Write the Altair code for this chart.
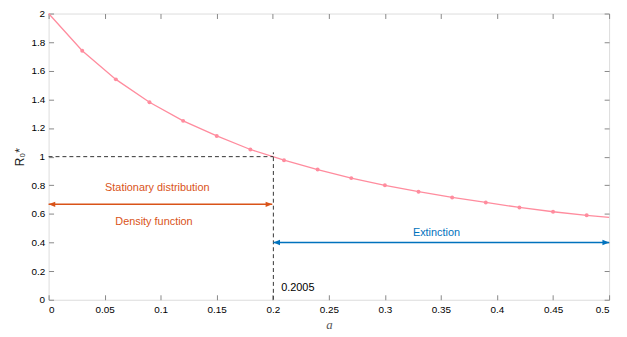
import altair as alt
import pandas as pd

# ---- data ----
a_vals = [0.0, 0.03, 0.06, 0.09, 0.12, 0.15, 0.18, 0.21, 0.24, 0.27, 0.30,
          0.33, 0.36, 0.39, 0.42, 0.45, 0.48, 0.50]
r_vals = [2.0, 1.74, 1.54, 1.38, 1.25, 1.145, 1.05, 0.975, 0.91, 0.85, 0.80,
          0.755, 0.715, 0.68, 0.645, 0.615, 0.59, 0.575]
marker_a = a_vals[1:-1]
marker_r = r_vals[1:-1]

x_ticks = [0, 0.05, 0.1, 0.15, 0.2, 0.25, 0.3, 0.35, 0.4, 0.45, 0.5]
y_ticks = [0, 0.2, 0.4, 0.6, 0.8, 1, 1.2, 1.4, 1.6, 1.8, 2]

threshold_a = 0.2005
threshold_r = 1.0
stat_y = 0.667
ext_y = 0.4
x_min, x_max = 0.0, 0.5

labels_txt = ["Stationary distribution", "Density function", "Extinction", "0.2005"]
labels_x = [0.097, 0.094, 0.346, 0.2075]
labels_y = [0.78, 0.545, 0.469, 0.08]
labels_col = ["#D95319", "#D95319", "#0072BD", "#000000"]
labels_align = ["center", "center", "center", "left"]

# ---- tables ----
curve = pd.DataFrame({"a": a_vals, "r": r_vals})
markers = pd.DataFrame({"a": marker_a, "r": marker_r})

W, H = 566, 289
FONT = "Liberation Sans"
AX = "#262626"
xs = alt.Scale(domain=[x_min, x_max], nice=False, zero=False)
ys = alt.Scale(domain=[0, 2], nice=False, zero=False)

main_x = alt.Axis(values=x_ticks, format="~g", ticks=False, labelPadding=5, grid=False,
                  title="a", titleFont="Liberation Serif", titleFontStyle="italic",
                  titleFontWeight="normal", titleFontSize=13, titleColor="#555555",
                  titleBaseline="alphabetic", titleY=29, domain=False)
main_y = alt.Axis(values=y_ticks, format="~g", ticks=False, labelPadding=4, grid=False,
                  title="R₀*", titleFontSize=12, titleFontWeight="normal",
                  titleColor=AX, titlePadding=4, domain=False)

line = alt.Chart(curve).mark_line(color="#FF8C9E", strokeWidth=1.3).encode(
    x=alt.X("a:Q", scale=xs, axis=main_x),
    y=alt.Y("r:Q", scale=ys, axis=main_y),
)

pts = alt.Chart(markers).mark_point(filled=True, color="#FF8C9E", size=16, opacity=1).encode(
    x=alt.X("a:Q", scale=xs, axis=None),
    y=alt.Y("r:Q", scale=ys, axis=None),
)


def tick_axis(orient, vals):
    return alt.Axis(orient=orient, offset=-5, values=vals, labels=False, domain=False,
                    tickSize=5, grid=False, title=None)


# inward ticks (bottom/left)
tick_bl = alt.Chart(curve).mark_point(opacity=0).encode(
    x=alt.X("a:Q", scale=xs, axis=tick_axis("bottom", x_ticks)),
    y=alt.Y("r:Q", scale=ys, axis=tick_axis("left", y_ticks)),
)
# inward ticks (top/right)
tick_tr = alt.Chart(curve).mark_point(opacity=0).encode(
    x=alt.X("a:Q", scale=xs, axis=tick_axis("top", x_ticks)),
    y=alt.Y("r:Q", scale=ys, axis=tick_axis("right", y_ticks)),
)

# dashed threshold lines
hdash = alt.Chart(pd.DataFrame({"x": [x_min], "x2": [threshold_a], "y": [threshold_r]})).mark_rule(
    color="#333333", strokeDash=[4, 3], strokeWidth=1).encode(
    x=alt.X("x:Q", scale=xs, axis=None), x2="x2:Q", y=alt.Y("y:Q", scale=ys, axis=None))
vdash = alt.Chart(pd.DataFrame({"x": [threshold_a], "y": [0.0], "y2": [1.03]})).mark_rule(
    color="#333333", strokeDash=[4, 3], strokeWidth=1).encode(
    x=alt.X("x:Q", scale=xs, axis=None), y=alt.Y("y:Q", scale=ys, axis=None), y2="y2:Q")

# arrows
arrows = pd.DataFrame({
    "x": [x_min, threshold_a], "x2": [threshold_a - 0.001, x_max],
    "y": [stat_y, ext_y], "c": ["#D95319", "#0072BD"]})
arrow_lines = alt.Chart(arrows).mark_rule(strokeWidth=1.5).encode(
    x=alt.X("x:Q", scale=xs, axis=None), x2="x2:Q",
    y=alt.Y("y:Q", scale=ys, axis=None),
    color=alt.Color("c:N", scale=None))

RIGHT = "M0,0 L-1,-0.4 L-1,0.4 Z"
LEFT = "M0,0 L1,-0.4 L1,0.4 Z"
heads_r = pd.DataFrame({"x": [threshold_a - 0.001, x_max], "y": [stat_y, ext_y],
                        "c": ["#D95319", "#0072BD"]})
heads_l = pd.DataFrame({"x": [x_min, threshold_a], "y": [stat_y, ext_y],
                        "c": ["#D95319", "#0072BD"]})


def heads(df, path):
    return alt.Chart(df).mark_point(shape=path, filled=True, opacity=1, size=180).encode(
        x=alt.X("x:Q", scale=xs, axis=None),
        y=alt.Y("y:Q", scale=ys, axis=None),
        color=alt.Color("c:N", scale=None))


texts = pd.DataFrame({"t": labels_txt, "x": labels_x, "y": labels_y,
                      "c": labels_col, "al": labels_align})
text_layers = []
for al in ["center", "left"]:
    sub = texts[texts["al"] == al]
    text_layers.append(
        alt.Chart(sub).mark_text(font=FONT, fontSize=11, align=al, baseline="middle").encode(
            x=alt.X("x:Q", scale=xs, axis=None),
            y=alt.Y("y:Q", scale=ys, axis=None),
            text="t:N",
            color=alt.Color("c:N", scale=None)))

chart = alt.layer(
    line, tick_bl, tick_tr, hdash, vdash, arrow_lines,
    heads(heads_r, RIGHT), heads(heads_l, LEFT), pts, *text_layers
).resolve_axis(x="independent", y="independent").properties(
    width=W, height=H,
    autosize=alt.AutoSizeParams(type="none"),
    padding={"left": 41, "top": 4, "right": 10, "bottom": 34},
).configure_view(stroke=AX, strokeWidth=1).configure_axis(
    labelFont=FONT, labelFontSize=11, labelColor=AX, titleFont=FONT,
    tickColor=AX, domainColor=AX, grid=False,
).configure(background="white")

chart.save("out.html", embed_options={"renderer": "svg", "actions": False})
